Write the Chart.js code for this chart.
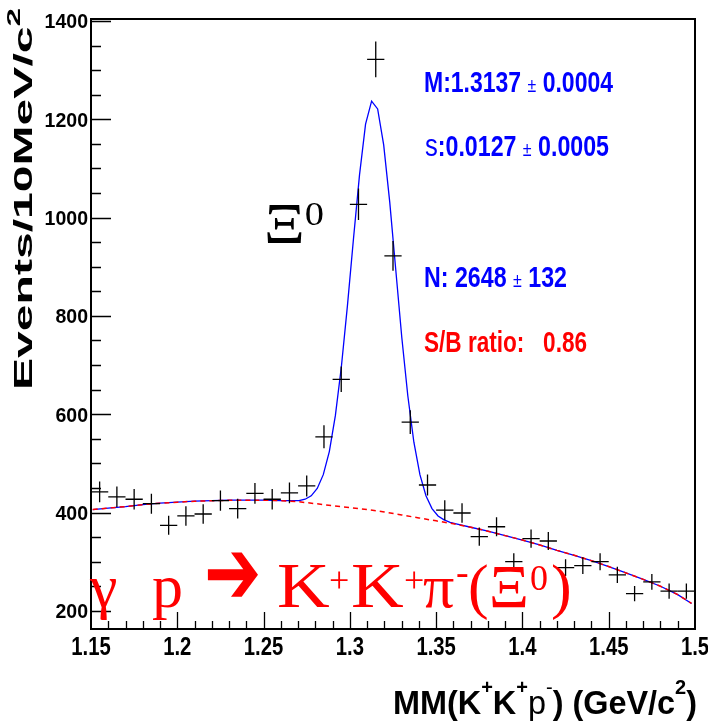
<!DOCTYPE html>
<html>
<head>
<meta charset="utf-8">
<script src="https://cdn.jsdelivr.net/npm/chart.js@4.4.0/dist/chart.umd.min.js"></script>
<style>
body { margin: 0; background: #fff; }
canvas { display: block; }
</style>
</head>
<body>
<canvas id="canvas" width="708" height="728"></canvas>
<script>
// missing mass spectrum, 10 MeV bins
var binCenters = [1.155, 1.165, 1.175, 1.185, 1.195, 1.205, 1.215, 1.225, 1.235, 1.245,
                  1.255, 1.265, 1.275, 1.285, 1.295, 1.305, 1.315, 1.325, 1.335, 1.345,
                  1.355, 1.365, 1.375, 1.385, 1.395, 1.405, 1.415, 1.425, 1.435, 1.445,
                  1.455, 1.465, 1.475, 1.485, 1.495];
var counts = [442, 432, 427, 418, 374, 393, 397, 424, 408, 439,
              427, 440, 454, 554, 671, 1027, 1322, 922, 584, 456,
              405, 399, 351, 371, 300, 347, 342, 288, 292, 300,
              273, 235, 259, 240, 240];
var errors = [21.0, 20.8, 20.7, 20.4, 19.3, 19.8, 19.9, 20.6, 20.2, 21.0,
              20.7, 21.0, 21.3, 23.5, 25.9, 32.0, 36.4, 30.4, 24.2, 21.4,
              20.1, 20.0, 18.7, 19.3, 17.3, 18.6, 18.5, 17.0, 17.1, 17.3,
              16.5, 15.3, 16.1, 15.5, 15.5];
var binHalfWidth = 0.005;

// background polynomial (red dashed)
var bkgX = [1.151, 1.16, 1.17, 1.18, 1.19, 1.20, 1.21, 1.22, 1.23, 1.24, 1.25, 1.26,
            1.27, 1.28, 1.29, 1.30, 1.31, 1.32, 1.33, 1.34, 1.35, 1.36, 1.37, 1.38,
            1.39, 1.40, 1.41, 1.42, 1.43, 1.44, 1.45, 1.46, 1.47, 1.48, 1.49, 1.498];
var bkgY = [406, 409, 412, 416, 419, 421, 423, 424, 425, 425, 425, 424,
            422, 418, 414, 410, 406, 401, 395, 389, 383, 377, 370, 362,
            353, 344, 334, 323, 313, 302, 290, 277, 264, 250, 233, 215];

// gaussian + background fit (blue)
var fitX = [1.151, 1.16, 1.17, 1.18, 1.19, 1.20, 1.21, 1.22, 1.23, 1.24, 1.25, 1.26,
            1.2671, 1.2706, 1.2741, 1.2776, 1.2811, 1.2846, 1.2881, 1.2916, 1.2951, 1.2986,
            1.3021, 1.3056, 1.3091, 1.3126, 1.3161, 1.3196, 1.3231, 1.3266, 1.3301, 1.3336,
            1.3371, 1.3406, 1.3441, 1.3476, 1.3511, 1.3546, 1.3581, 1.3616,
            1.37, 1.38, 1.39, 1.40, 1.41, 1.42, 1.43, 1.44, 1.45, 1.46, 1.47, 1.48, 1.49, 1.498];
var fitY = [406, 409, 412, 416, 419, 421, 423, 424, 425, 425, 425, 424,
            424, 424, 427, 434, 449, 477, 524, 597, 697, 821,
            957, 1087, 1190, 1237, 1221, 1148, 1032, 894, 756, 637,
            543, 477, 434, 408, 393, 385, 380, 377,
            370, 362, 353, 344, 334, 323, 313, 302, 290, 277, 264, 250, 233, 215];

var xTickLabels = ['1.15', '1.2', '1.25', '1.3', '1.35', '1.4', '1.45', '1.5'];
var yTickLabels = ['200', '400', '600', '800', '1000', '1200', '1400'];

var SANS = '"Liberation Sans", Arial, sans-serif';
var SERIF = '"Liberation Serif", "Times New Roman", serif';
var BLUE = '#0000ff';
var RED = '#ff0000';

function pts(xs, ys) {
    var out = [];
    for (var i = 0; i < xs.length; i++) out.push({x: xs[i], y: ys[i]});
    return out;
}

// draws a row of text pieces, squeezed or stretched horizontally
function drawRuns(ctx, runs, x, y, opt) {
    opt = opt || {};
    var total = 0;
    runs.forEach(function(r) {
        ctx.font = r.font;
        r.w = ctx.measureText(r.t).width;
        total += r.w;
    });
    var sx = opt.width ? opt.width / total : (opt.sx || 1);
    var x0 = x;
    if (opt.align == 'right') x0 = x - total * sx;
    else if (opt.align == 'center') x0 = x - total * sx / 2;
    ctx.save();
    ctx.translate(x0, y);
    ctx.scale(sx, 1);
    ctx.textAlign = 'left';
    ctx.textBaseline = 'alphabetic';
    var cx = 0;
    runs.forEach(function(r) {
        ctx.font = r.font;
        ctx.fillStyle = r.color || opt.color || '#000';
        ctx.fillText(r.t, cx, r.dy || 0);
        cx += r.w;
    });
    ctx.restore();
}

function bold(px) { return 'bold ' + px + 'px ' + SANS; }
function thin(px) { return px + 'px ' + SANS; }
function serif(px) { return px + 'px ' + SERIF; }

var errorBars = {
    id: 'errorBars',
    afterDatasetsDraw: function(chart) {
        var ctx = chart.ctx, xs = chart.scales.x, ys = chart.scales.y;
        var data = chart.data.datasets[2].data;
        ctx.save();
        ctx.strokeStyle = '#000';
        ctx.lineWidth = 1.3;
        data.forEach(function(p) {
            var px = xs.getPixelForValue(p.x);
            var py = ys.getPixelForValue(p.y);
            ctx.beginPath();
            ctx.moveTo(xs.getPixelForValue(p.x - binHalfWidth), py);
            ctx.lineTo(xs.getPixelForValue(p.x + binHalfWidth), py);
            ctx.moveTo(px, ys.getPixelForValue(p.y - p.err));
            ctx.lineTo(px, ys.getPixelForValue(p.y + p.err));
            ctx.stroke();
        });
        ctx.restore();
    }
};

var frameAndText = {
    id: 'frameAndText',
    afterDraw: function(chart) {
        var ctx = chart.ctx, a = chart.chartArea;
        var xs = chart.scales.x, ys = chart.scales.y;
        ctx.save();

        // ticks pointing into the frame
        ctx.strokeStyle = '#000';
        ctx.lineWidth = 1.3;
        ctx.beginPath();
        for (var v = 200; v <= ys.max; v += 50) {
            var py = Math.round(ys.getPixelForValue(v)) + 0.5;
            var len = (v % 200 == 0) ? 20 : 10;
            ctx.moveTo(a.left, py);
            ctx.lineTo(a.left + len, py);
        }
        for (var k = 1; k < 35; k++) {
            var xv = 1.15 + k * 0.01;
            var px = Math.round(xs.getPixelForValue(xv)) + 0.5;
            var l2 = (k % 5 == 0) ? 17 : 8;
            ctx.moveTo(px, a.bottom);
            ctx.lineTo(px, a.bottom - l2);
        }
        ctx.stroke();

        ctx.lineWidth = 2;
        ctx.strokeRect(a.left, a.top, a.right - a.left, a.bottom - a.top);

        // tick labels
        yTickLabels.forEach(function(t) {
            var py = ys.getPixelForValue(parseFloat(t));
            drawRuns(ctx, [{t: t, font: bold(21)}], a.left - 3, py + 7.5, {align: 'right', sx: 0.93});
        });
        xTickLabels.forEach(function(t) {
            var px = xs.getPixelForValue(parseFloat(t));
            drawRuns(ctx, [{t: t, font: bold(26)}], px, a.bottom + 26, {align: 'center', sx: 0.78});
        });

        // axis titles
        ctx.save();
        ctx.translate(32, 390);
        ctx.rotate(-Math.PI / 2);
        drawRuns(ctx, [
            {t: 'Events/10MeV/c', font: bold(26)},
            {t: '2', font: bold(18), dy: -12}
        ], 0, 0, {width: 382});
        ctx.restore();

        drawRuns(ctx, [
            {t: 'MM(K', font: bold(34)},
            {t: '+', font: bold(21), dy: -20},
            {t: 'K', font: bold(34)},
            {t: '+', font: bold(21), dy: -20},
            {t: 'p', font: thin(34)},
            {t: '-', font: thin(21), dy: -20},
            {t: ') (GeV/c', font: bold(34)},
            {t: '2', font: bold(21), dy: -20},
            {t: ')', font: bold(34)}
        ], 393, 714, {width: 304});

        // fit results
        drawRuns(ctx, [
            {t: 'M:1.3137 ', font: bold(29)},
            {t: '\u00b1', font: thin(20)},
            {t: ' 0.0004', font: bold(29)}
        ], 424, 92, {width: 189, color: BLUE});
        drawRuns(ctx, [
            {t: 's', font: thin(32)},
            {t: ':0.0127 ', font: bold(29)},
            {t: '\u00b1', font: thin(20)},
            {t: ' 0.0005', font: bold(29)}
        ], 425, 156, {width: 184, color: BLUE});
        drawRuns(ctx, [
            {t: 'N: 2648 ', font: bold(29)},
            {t: '\u00b1', font: thin(20)},
            {t: ' 132', font: bold(29)}
        ], 424, 287, {width: 143, color: BLUE});
        drawRuns(ctx, [{t: 'S/B ratio:   0.86', font: bold(29)}], 424, 352, {width: 163, color: RED});

        // peak label
        drawRuns(ctx, [
            {t: '\u039e', font: serif(56)},
            {t: '0', font: serif(34), dy: -18}
        ], 264, 243, {width: 60});

        // reaction: [text, font, x, raise, x-stretch, y-stretch]
        var pieces = [
            ['\u03b3', serif(62), 90, 0, 1, 1],
            ['p', serif(62), 152, 0, 1, 1],
            ['\u2794', '58px "DejaVu Sans"', 204, -3, 1.18, 1.6],
            ['K', serif(64), 277, 0, 1.14, 1],
            ['+', serif(36), 329, -15, 1, 1],
            ['K', serif(64), 351, 0, 1.14, 1],
            ['+', serif(36), 404, -15, 1, 1],
            ['\u03c0', serif(62), 423, 0, 1, 1],
            ['-', serif(38), 456, -22, 1, 1],
            ['(', serif(62), 468, 0, 1, 1],
            ['\u039e', serif(62), 489, 0, 1, 1],
            ['0', serif(36), 530, -17, 1, 1],
            [')', serif(62), 551, 0, 1, 1]
        ];
        ctx.fillStyle = RED;
        ctx.textAlign = 'left';
        ctx.textBaseline = 'alphabetic';
        pieces.forEach(function(p) {
            ctx.save();
            ctx.translate(p[2], 607 + p[3]);
            ctx.scale(p[4], p[5]);
            ctx.font = p[1];
            ctx.fillText(p[0], 0, 0);
            ctx.restore();
        });

        ctx.restore();
    }
};

var dataPoints = [];
for (var i = 0; i < binCenters.length; i++) {
    dataPoints.push({x: binCenters[i], y: counts[i], err: errors[i]});
}

var chart = new Chart(document.getElementById('canvas'), {
    type: 'scatter',
    data: {
        datasets: [{
            label: 'background',
            data: pts(bkgX, bkgY),
            showLine: true,
            borderColor: RED,
            borderWidth: 1.5,
            borderDash: [5, 4],
            pointRadius: 0,
            order: 0
        }, {
            label: 'fit',
            data: pts(fitX, fitY),
            showLine: true,
            borderColor: BLUE,
            borderWidth: 1.3,
            pointRadius: 0,
            order: 1
        }, {
            label: 'data',
            data: dataPoints,
            showLine: false,
            pointRadius: 0,
            order: 2
        }]
    },
    options: {
        responsive: false,
        animation: false,
        devicePixelRatio: 1,
        layout: {padding: {left: 91, top: 19, right: 13, bottom: 99}},
        plugins: {legend: {display: false}, tooltip: {enabled: false}},
        scales: {
            x: {type: 'linear', min: 1.15, max: 1.5, display: false},
            y: {type: 'linear', min: 163, max: 1404, display: false}
        }
    },
    plugins: [errorBars, frameAndText]
});
</script>
</body>
</html>
